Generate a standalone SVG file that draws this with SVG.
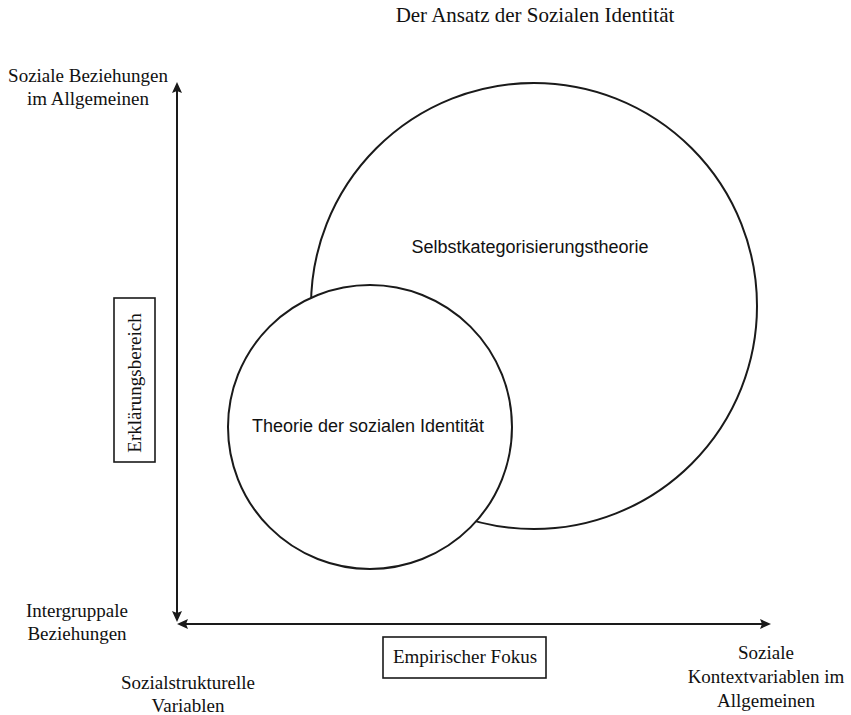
<svg xmlns="http://www.w3.org/2000/svg" width="851" height="715" viewBox="0 0 851 715">
  <style>
    .serif { font-family: "Liberation Serif", "Times New Roman", serif; font-size: 19px; fill: #111; text-anchor: middle; }
    .sans { font-family: "Liberation Sans", Arial, sans-serif; font-size: 18px; fill: #111; text-anchor: middle; }
    .circle { fill: #ffffff; stroke: #1a1a1a; stroke-width: 2; }
    .box { fill: #ffffff; stroke: #1a1a1a; stroke-width: 1.6; }
    .axis { fill: none; stroke: #1a1a1a; stroke-width: 2; }
  </style>
  <defs>
    <marker id="arrow" markerUnits="userSpaceOnUse" markerWidth="12" markerHeight="12" refX="7" refY="5" orient="auto-start-reverse" viewBox="0 0 12 10">
      <path d="M0,0 L11,5 L0,10 L2,5 z" fill="#1a1a1a"/>
    </marker>
  </defs>
  <rect width="851" height="715" fill="#ffffff"/>

  <g id="title">
    <text class="serif" x="535" y="22" style="font-size:21px">Der Ansatz der Sozialen Identität</text>
  </g>

  <g id="connectors">
    <line class="axis" x1="177" y1="86" x2="177" y2="618" marker-start="url(#arrow)" marker-end="url(#arrow)"/>
    <line class="axis" x1="181" y1="624" x2="767" y2="624" marker-start="url(#arrow)" marker-end="url(#arrow)"/>
  </g>

  <g id="node-selbstkategorisierungstheorie">
    <circle class="circle" cx="534" cy="306" r="223"/>
    <text class="sans" x="530" y="253">Selbstkategorisierungstheorie</text>
  </g>

  <g id="node-theorie-sozialen-identitaet">
    <circle class="circle" cx="370" cy="427" r="142"/>
    <text class="sans" x="368" y="432">Theorie der sozialen Identität</text>
  </g>

  <g id="label-y-top">
    <text class="serif" x="88" y="82">Soziale Beziehungen</text>
    <text class="serif" x="88" y="105">im Allgemeinen</text>
  </g>

  <g id="label-y-bottom">
    <text class="serif" x="77" y="617">Intergruppale</text>
    <text class="serif" x="77" y="640">Beziehungen</text>
  </g>

  <g id="label-y-axis">
    <rect class="box" x="114" y="298" width="41" height="164"/>
    <text class="serif" transform="translate(141,383) rotate(-90)" x="0" y="0">Erklärungsbereich</text>
  </g>

  <g id="label-x-axis">
    <rect class="box" x="383" y="637" width="163" height="41"/>
    <text class="serif" x="465" y="663">Empirischer Fokus</text>
  </g>

  <g id="label-x-left">
    <text class="serif" x="188" y="689">Sozialstrukturelle</text>
    <text class="serif" x="188" y="712">Variablen</text>
  </g>

  <g id="label-x-right">
    <text class="serif" x="766" y="659">Soziale</text>
    <text class="serif" x="766" y="683">Kontextvariablen im</text>
    <text class="serif" x="766" y="707">Allgemeinen</text>
  </g>
</svg>
